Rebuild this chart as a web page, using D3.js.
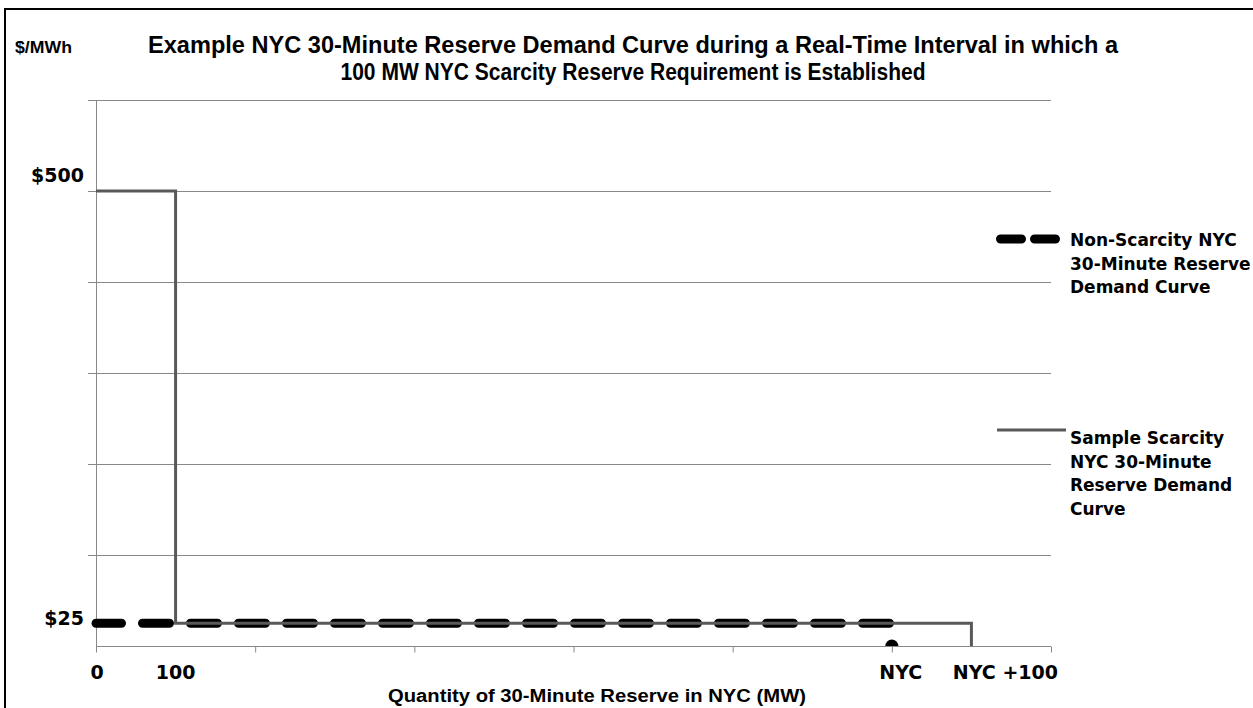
<!DOCTYPE html>
<html>
<head>
<meta charset="utf-8">
<script src="https://cdn.jsdelivr.net/npm/d3@7"></script>
<style>
  body { margin: 0; background: #fff; }
  svg text { font-family: "DejaVu Sans", sans-serif; font-weight: bold; fill: #000; }
  .calibri { font-family: "Liberation Sans Narrow", "Liberation Sans", Arial, sans-serif; }
</style>
</head>
<body>
<div id="chart"></div>
<script>
// Values
const priceGrid = [0, 100, 200, 300, 400, 500, 600];
const priceLabelValues = [25, 500];
const priceLabels = ["$25", "$500"];
const quantityTicks = [0, 200, 400, 600, 800, 1000, 1200];
const quantityLabelValues = [0, 100, 1000, 1100];
const quantityLabels = ["0", "100", "NYC", "NYC +100"];

// Demand curves: [quantity MW, price $/MWh]
const nonScarcityCurve = [[0, 25], [1000, 25]];
const scarcityCurve = [[0, 500], [100, 25], [1100, 0]];
const nycPoint = [1000, 0];

const titleLines = [
  "Example NYC 30-Minute Reserve Demand Curve during a  Real-Time Interval in which a",
  "100 MW NYC Scarcity Reserve Requirement is Established"
];
const legendNonScarcity = ["Non-Scarcity NYC", "30-Minute Reserve", "Demand Curve"];
const legendScarcity = ["Sample Scarcity", "NYC 30-Minute", "Reserve Demand", "Curve"];

// Set dimensions and margins
const W = 1253, H = 708;
const margin = { top: 100, right: 202, bottom: 62, left: 96 };
const width = W - margin.left - margin.right;
const height = H - margin.top - margin.bottom;

const root = d3.select("#chart")
  .append("svg")
    .attr("width", W)
    .attr("height", H);

// Frame around the picture
root.append("path")
  .attr("d", `M5,${H} L5,9 L${W},9`)
  .attr("fill", "none")
  .attr("stroke", "#000")
  .attr("stroke-width", 2);

const svg = root.append("g")
  .attr("transform", `translate(${margin.left},${margin.top})`);

// Scales
const x = d3.scaleLinear().domain([0, 1200]).range([0, width]);
const y = d3.scaleLinear().domain([0, 600]).range([height, 0]);

// Gridlines (with outside ticks on the left)
svg.selectAll(".grid")
  .data(priceGrid.filter(d => d > 0))
  .enter().append("line")
    .attr("class", "grid")
    .attr("x1", -8)
    .attr("x2", width)
    .attr("y1", d => Math.round(y(d)) + 0.5)
    .attr("y2", d => Math.round(y(d)) + 0.5)
    .attr("stroke", "#888")
    .attr("stroke-width", 1);

// Y axis line
svg.append("line")
  .attr("x1", 0.5).attr("x2", 0.5)
  .attr("y1", 0).attr("y2", height)
  .attr("stroke", "#888");

// X axis
const xAxis = svg.append("g")
  .attr("transform", `translate(0,${Math.round(height) + 0.5})`)
  .call(d3.axisBottom(x).tickValues(quantityTicks).tickSize(6).tickFormat(""));
xAxis.select(".domain").attr("stroke", "#888").attr("d", `M0,0H${width}`);
xAxis.selectAll(".tick line").attr("stroke", "#888");

// Y labels
const yNudge = { "$500": -9, "$25": 2 };
svg.selectAll(".ylab")
  .data(priceLabelValues)
  .enter().append("text")
    .attr("class", "ylab")
    .attr("x", -12)
    .attr("y", (d, i) => y(d) + yNudge[priceLabels[i]])
    .attr("text-anchor", "end")
    .style("font-size", "19px")
    .text((d, i) => priceLabels[i]);

// X labels
const xNudge = { "0": 1, "100": 0, "NYC": 9, "NYC +100": 34 };
svg.selectAll(".xlab")
  .data(quantityLabelValues)
  .enter().append("text")
    .attr("class", "xlab")
    .attr("x", (d, i) => x(d) + xNudge[quantityLabels[i]])
    .attr("y", height + 33)
    .attr("text-anchor", "middle")
    .style("font-size", "19px")
    .text((d, i) => quantityLabels[i]);

// Non-scarcity curve (thick dashed)
const line = d3.line().x(d => x(d[0])).y(d => y(d[1]));
svg.append("path")
  .datum(nonScarcityCurve)
  .attr("d", line)
  .attr("fill", "none")
  .attr("stroke", "#000")
  .attr("stroke-width", 9)
  .attr("stroke-linecap", "round")
  .attr("stroke-dasharray", "27,21")
  .attr("stroke-dashoffset", 1.5);

// Scarcity curve (step)
const stepLine = d3.line().x(d => x(d[0])).y(d => y(d[1])).curve(d3.curveStepAfter);
svg.append("path")
  .datum(scarcityCurve)
  .attr("d", stepLine)
  .attr("fill", "none")
  .attr("stroke", "#595959")
  .attr("stroke-width", 3);

// NYC marker sitting on the axis
svg.append("clipPath").attr("id", "plot-clip")
  .append("rect").attr("width", width).attr("height", height);
svg.append("circle")
  .attr("clip-path", "url(#plot-clip)")
  .attr("cx", x(nycPoint[0]))
  .attr("cy", y(nycPoint[1]))
  .attr("r", 6.5)
  .attr("fill", "#000");

// Title
root.selectAll(".title")
  .data(titleLines)
  .enter().append("text")
    .attr("class", "title calibri")
    .attr("x", 633)
    .attr("y", (d, i) => 53 + i * 27)
    .attr("text-anchor", "middle")
    .attr("textLength", (d, i) => i === 0 ? 970 : 585)
    .attr("lengthAdjust", "spacingAndGlyphs")
    .style("font-size", "23px")
    .text(d => d);

root.append("text")
  .attr("class", "calibri")
  .attr("x", 15)
  .attr("y", 53)
  .attr("textLength", 57)
  .attr("lengthAdjust", "spacingAndGlyphs")
  .style("font-size", "17px")
  .text("$/MWh");

// X axis title
root.append("text")
  .attr("class", "calibri")
  .attr("x", 597)
  .attr("y", 702)
  .attr("text-anchor", "middle")
  .attr("textLength", 418)
  .attr("lengthAdjust", "spacingAndGlyphs")
  .style("font-size", "18px")
  .text("Quantity of 30-Minute Reserve in NYC (MW)");

// Legend
const legend = root.append("g").attr("class", "legend");

legend.append("line")
  .attr("x1", 1000.5).attr("x2", 1055.5)
  .attr("y1", 239).attr("y2", 239)
  .attr("stroke", "#000")
  .attr("stroke-width", 9)
  .attr("stroke-linecap", "round")
  .attr("stroke-dasharray", "21,13");

legend.append("line")
  .attr("x1", 997).attr("x2", 1066)
  .attr("y1", 430).attr("y2", 430)
  .attr("stroke", "#595959")
  .attr("stroke-width", 3);

legend.selectAll(".lg1")
  .data(legendNonScarcity)
  .enter().append("text")
    .attr("x", 1070)
    .attr("y", (d, i) => 246 + i * 23.5)
    .style("font-size", "17px")
    .text(d => d);

legend.selectAll(".lg2")
  .data(legendScarcity)
  .enter().append("text")
    .attr("x", 1070)
    .attr("y", (d, i) => 444 + i * 23.5)
    .style("font-size", "17px")
    .text(d => d);
</script>
</body>
</html>
